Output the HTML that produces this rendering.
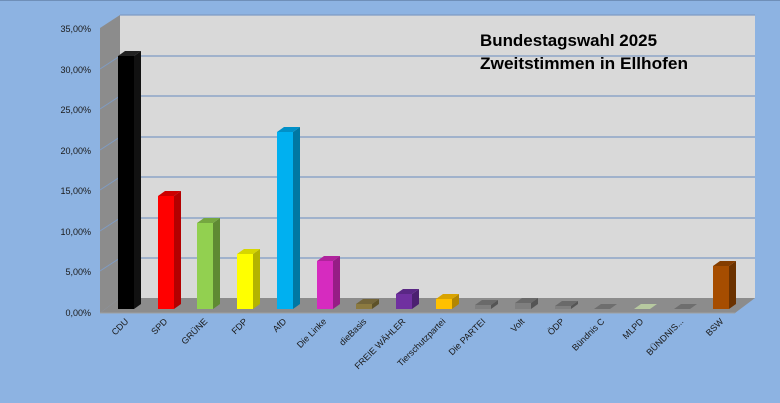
<!DOCTYPE html>
<html><head><meta charset="utf-8"><style>
html,body{margin:0;padding:0;background:#8db3e2;}
svg{display:block;font-family:"Liberation Sans",sans-serif;}
</style></head><body>
<svg width="780" height="403" viewBox="0 0 780 403" xmlns="http://www.w3.org/2000/svg">
<rect width="780" height="403" fill="#8db3e2"/>
<rect x="0" y="0" width="780" height="1" fill="#6f8fb8"/>
<!-- back wall -->
<rect x="120" y="15" width="635" height="283" fill="#d9d9d9"/>
<g stroke="#7f9cc4" stroke-width="1.3">
<line x1="120" y1="56" x2="755" y2="56"/>
<line x1="120" y1="96" x2="755" y2="96"/>
<line x1="120" y1="137" x2="755" y2="137"/>
<line x1="120" y1="177" x2="755" y2="177"/>
<line x1="120" y1="218" x2="755" y2="218"/>
<line x1="120" y1="258" x2="755" y2="258"/>
<line x1="120" y1="15" x2="755" y2="15"/>
</g>
<!-- left wall -->
<polygon points="100,28 120,15 120,298 100,313" fill="#8c8c8c"/>
<g stroke="#7f9cc4" stroke-width="1">
<line x1="100" y1="69" x2="120" y2="56"/>
<line x1="100" y1="109" x2="120" y2="96"/>
<line x1="100" y1="150" x2="120" y2="137"/>
<line x1="100" y1="190" x2="120" y2="177"/>
<line x1="100" y1="231" x2="120" y2="218"/>
<line x1="100" y1="271" x2="120" y2="258"/>
</g>
<!-- floor -->
<polygon points="100,313 120,298 755,298 735,313" fill="#8c8c8c"/>
<line x1="100" y1="313" x2="735" y2="313" stroke="#a0a0a0" stroke-width="1"/>
<!-- y ticks -->
<g font-size="9" fill="#1a1a1a" text-anchor="end">
<text x="91" y="32">35,00%</text>
<text x="91" y="73">30,00%</text>
<text x="91" y="113">25,00%</text>
<text x="91" y="154">20,00%</text>
<text x="91" y="194">15,00%</text>
<text x="91" y="235">10,00%</text>
<text x="91" y="275">5,00%</text>
<text x="91" y="316">0,00%</text>
</g>
<!-- bars: face, side, top -->
<g>
<polygon points="118,309 134,309 134,56 118,56" fill="#000"/><polygon points="134,309 141,304 141,51 134,56" fill="#111"/><polygon points="118,56 125,51 141,51 134,56" fill="#222"/>
<polygon points="158,309 174,309 174,196 158,196" fill="#ff0000"/><polygon points="174,309 181,304 181,191 174,196" fill="#b30000"/><polygon points="158,196 165,191 181,191 174,196" fill="#cc0000"/>
<polygon points="197,309 213,309 213,223 197,223" fill="#92d050"/><polygon points="213,309 220,304 220,218 213,223" fill="#5f8a33"/><polygon points="197,223 204,218 220,218 213,223" fill="#75a740"/>
<polygon points="237,309 253,309 253,254 237,254" fill="#ffff00"/><polygon points="253,309 260,304 260,249 253,254" fill="#b3b300"/><polygon points="237,254 244,249 260,249 253,254" fill="#d6d600"/>
<polygon points="277,309 293,309 293,132 277,132" fill="#00b0f0"/><polygon points="293,309 300,304 300,127 293,132" fill="#0077a3"/><polygon points="277,132 284,127 300,127 293,132" fill="#0090c8"/>
<polygon points="317,309 333,309 333,261 317,261" fill="#d62bbf"/><polygon points="333,309 340,304 340,256 333,261" fill="#961d85"/><polygon points="317,261 324,256 340,256 333,261" fill="#b0239c"/>
<polygon points="356,309 372,309 372,304 356,304" fill="#8c7a40"/><polygon points="372,309 379,304 379,299 372,304" fill="#5e5229"/><polygon points="356,304 363,299 379,299 372,304" fill="#73653a"/>
<polygon points="396,309 412,309 412,294 396,294" fill="#7030a0"/><polygon points="412,309 419,304 419,289 412,294" fill="#4b2070"/><polygon points="396,294 403,289 419,289 412,294" fill="#5a2785"/>
<polygon points="436,309 452,309 452,299 436,299" fill="#ffc000"/><polygon points="452,309 459,304 459,294 452,299" fill="#b38600"/><polygon points="436,299 443,294 459,294 452,299" fill="#d9a300"/>
<polygon points="475,309 491,309 491,305 475,305" fill="#7f7f7f"/><polygon points="491,309 498,304 498,300 491,305" fill="#555"/><polygon points="475,305 482,300 498,300 491,305" fill="#6a6a6a"/>
<polygon points="515,309 531,309 531,303 515,303" fill="#7f7f7f"/><polygon points="531,309 538,304 538,298 531,303" fill="#555"/><polygon points="515,303 522,298 538,298 531,303" fill="#6a6a6a"/>
<polygon points="555,309 571,309 571,306 555,306" fill="#7f7f7f"/><polygon points="571,309 578,304 578,301 571,306" fill="#555"/><polygon points="555,306 562,301 578,301 571,306" fill="#6a6a6a"/>
<polygon points="594,309 610,309 617,304 601,304" fill="#6e6e6e"/>
<polygon points="634,309 650,309 657,304 641,304" fill="#b7c9a0"/>
<polygon points="674,309 690,309 697,304 681,304" fill="#6e6e6e"/>
<polygon points="713,309 729,309 729,266 713,266" fill="#a64d00"/><polygon points="729,309 736,304 736,261 729,266" fill="#6b3200"/><polygon points="713,266 720,261 736,261 729,266" fill="#843d00"/>
</g>
<!-- x labels -->
<g font-size="9" fill="#1a1a1a" text-anchor="end">
<text transform="translate(129,322) rotate(-45)">CDU</text>
<text transform="translate(168,322) rotate(-45)">SPD</text>
<text transform="translate(208,322) rotate(-45)">GRÜNE</text>
<text transform="translate(248,322) rotate(-45)">FDP</text>
<text transform="translate(287,322) rotate(-45)">AfD</text>
<text transform="translate(327,322) rotate(-45)">Die Linke</text>
<text transform="translate(367,322) rotate(-45)">dieBasis</text>
<text transform="translate(406,322) rotate(-45)">FREIE WÄHLER</text>
<text transform="translate(446,322) rotate(-45)">Tierschutzpartei</text>
<text transform="translate(486,322) rotate(-45)">Die PARTEI</text>
<text transform="translate(525,322) rotate(-45)">Volt</text>
<text transform="translate(565,322) rotate(-45)">ÖDP</text>
<text transform="translate(605,322) rotate(-45)">Bündnis C</text>
<text transform="translate(644,322) rotate(-45)">MLPD</text>
<text transform="translate(684,322) rotate(-45)">BÜNDNIS...</text>
<text transform="translate(724,322) rotate(-45)">BSW</text>
</g>
<!-- title -->
<g font-size="17" font-weight="bold" fill="#000">
<text x="480" y="46" textLength="177" lengthAdjust="spacingAndGlyphs">Bundestagswahl 2025</text>
<text x="480" y="69" textLength="208" lengthAdjust="spacingAndGlyphs">Zweitstimmen in Ellhofen</text>
</g>
</svg>
</body></html>
